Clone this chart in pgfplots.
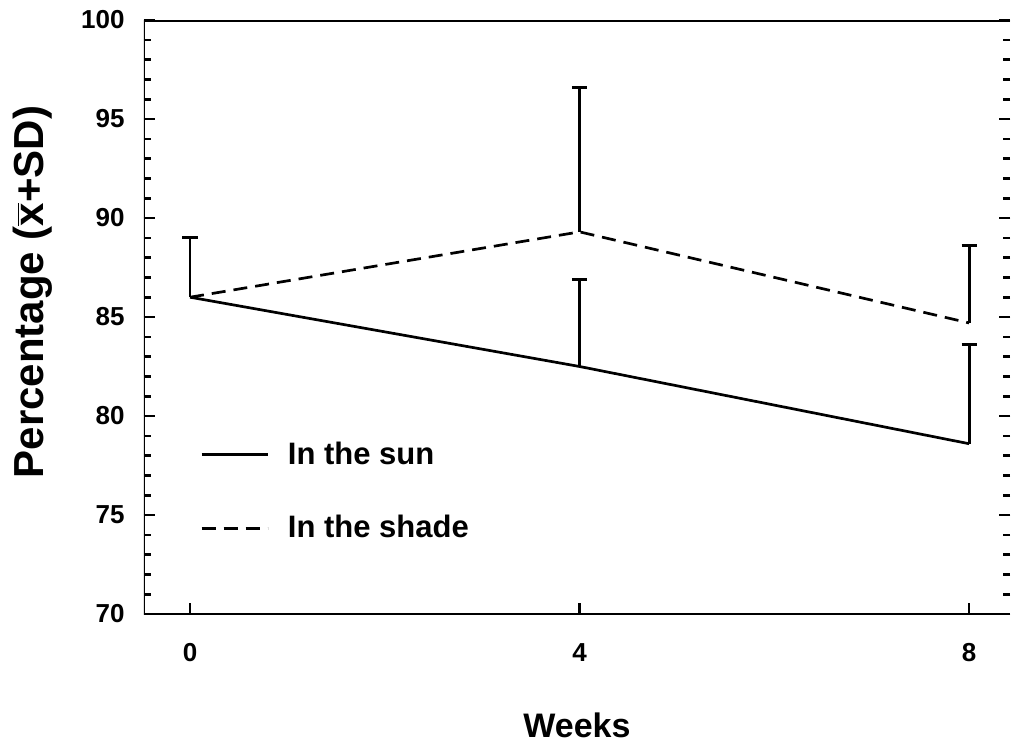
\documentclass[border=0pt]{standalone}
\usepackage{fontspec}
\setmainfont{Liberation Sans}
\usepackage{pgfplots}
\pgfplotsset{compat=1.18}

% mean and SD (plotted as upper error bar) per week
\pgfplotstableread{
week mean sd
0 86.0 3.0
4 82.5 4.4
8 78.6 5.0
}\sun
\pgfplotstableread{
week mean sd
0 86.0 3.0
4 89.3 7.3
8 84.7 3.9
}\shade

\begin{document}
\begin{tikzpicture}
\begin{axis}[
  scale only axis,
  width=433pt, height=297pt,
  xmin=-0.473, xmax=8.42,
  ymin=70, ymax=100,
  xtick={0,4,8},
  ytick={70,75,...,100},
  minor ytick={70,71,...,100},
  xtick pos=bottom,
  ytick pos=both,
  tick align=inside,
  major tick length=5.5pt,
  minor tick length=3.5pt,
  every tick/.style={black, line width=1.3pt},
  axis line style={draw=none},
  /pgf/number format/assume math mode=true,
  tick label style={font=\fontsize{13}{13}\selectfont\bfseries},
  xticklabel style={anchor=north, inner sep=0pt, yshift=-14.5pt},
  yticklabel style={anchor=east, inner sep=0pt, xshift=-9.5pt},
  xlabel={Weeks},
  xlabel style={font=\fontsize{17}{17}\selectfont\bfseries, at={(rel axis cs:0.5,0)}, anchor=base, inner sep=0pt, yshift=-61.5pt},
  ylabel={Percentage (\ensuremath{\overline{\mbox{x}}}+SD)},
  ylabel style={font=\fontsize{21}{21}\selectfont\bfseries, at={(rel axis cs:-0.1513,0.542)}, anchor=north, inner sep=0pt},
  legend style={draw=none, fill=none, inner sep=0pt,
    at={(axis cs:0.1,76.19)}, anchor=west,
    font=\fontsize{15.5}{15.5}\selectfont\bfseries,
    row sep=20pt, column sep=7.5pt, cells={anchor=west}},
  legend image code/.code={\draw[#1] (0pt,0pt) -- (33pt,0pt);},
  legend cell align=left,
  error bars/y dir=plus,
  error bars/y explicit,
  error bars/error mark options={rotate=90, line width=1.4pt, mark size=3.8pt, solid},
  error bars/error bar style={line width=1.4pt, solid},
]
\addplot[black, line width=1.35pt, mark=none] table[x=week, y=mean, y error=sd]{\sun};
\addlegendentry{In the sun}
\addplot[black, line width=1.35pt, mark=none, dash pattern=on 7pt off 4pt] table[x=week, y=mean, y error=sd]{\shade};
\addlegendentry{In the shade}
% frame: top, left and bottom sides
\draw[line width=1.5pt] (rel axis cs:1,1) -- (rel axis cs:0,1) -- (rel axis cs:0,0) -- (rel axis cs:1,0);
\coordinate (sw) at (rel axis cs:0,0);
\coordinate (ne) at (rel axis cs:1,1);
\end{axis}
\pgfresetboundingbox
\path ([shift={(-72pt,-65.5pt)}]sw) rectangle ([shift={(1.5pt,10pt)}]ne);
\end{tikzpicture}
\end{document}
